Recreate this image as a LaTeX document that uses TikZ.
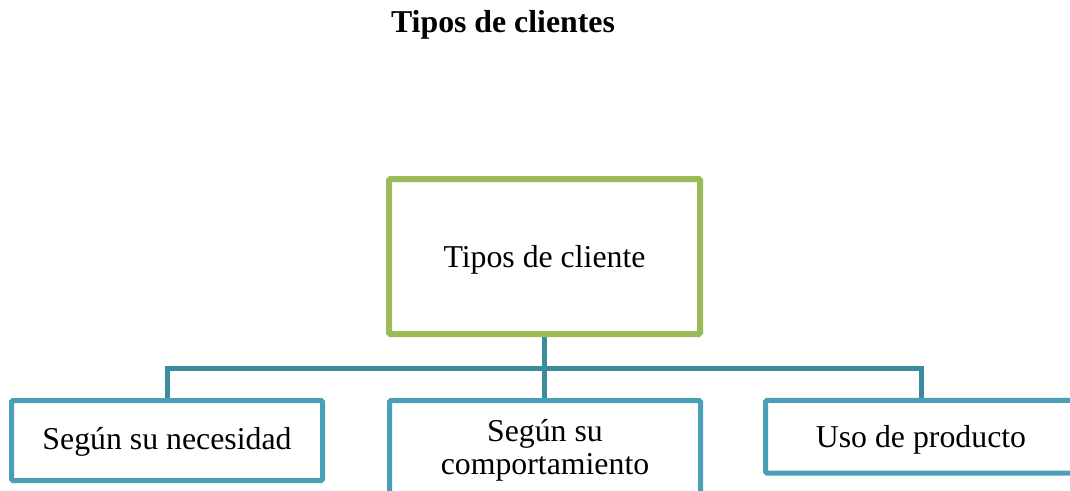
\documentclass[tikz,border=0pt]{standalone}
\usepackage{fontspec}
\setmainfont{Liberation Serif}
\usetikzlibrary{backgrounds}
\definecolor{grn}{HTML}{9BBB59}
\definecolor{boxteal}{HTML}{4A9EB6}
\definecolor{linkteal}{HTML}{3A8AA0}
\begin{document}
\begin{tikzpicture}[x=0.75pt,y=-0.75pt,
  font=\fontsize{23.85}{24.75}\selectfont,
  box/.style={draw=boxteal, line width=3.75pt, fill=white, rounded corners=1pt,
    minimum width=233.25pt, inner sep=0pt, align=center},
  link/.style={draw=linkteal, line width=3.75pt}]
\useasboundingbox (0,0) rectangle (1070,490);
\clip (0,0) rectangle (1070,490);
\node[font=\fontsize{23.85}{24.75}\selectfont\bfseries, anchor=base] (title) at (503,32) {Tipos de clientes};
\node[box, draw=grn, line width=4.5pt, minimum height=116.25pt, text height=15.75pt, text depth=0pt] (root) at (544.5,256.5) {Tipos de cliente};
\node[box, minimum height=60pt, text height=13.9pt, text depth=0pt] (left) at (167,440.5) {Según su necesidad};
\node[box, minimum height=75pt] (mid) at (545,450.5) {Según su\\comportamiento};
\node[box, minimum height=54.4pt, text height=15.4pt, text depth=0pt] (right) at (921,436.75) {Uso de producto};
\begin{scope}[on background layer]
\coordinate (bar) at (544.5,368);
\draw[link] (root.south) -- (root.south |- mid.north);
\draw[link] (left.north) -- (left.north |- bar) -- (right.north |- bar) -- (right.north);
\end{scope}
\end{tikzpicture}
\end{document}
